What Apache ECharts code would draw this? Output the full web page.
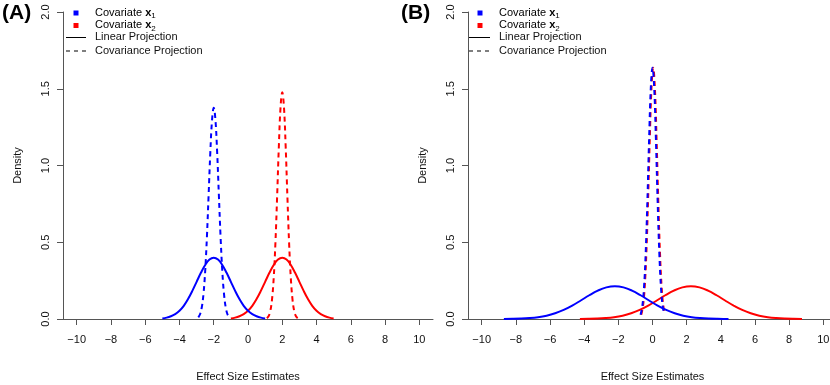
<!DOCTYPE html>
<html><head><meta charset="utf-8">
<script src="https://cdn.jsdelivr.net/npm/echarts@6/dist/echarts.min.js"></script>
<style>html,body{margin:0;padding:0;background:#fff}#c{width:830px;height:385px}</style>
</head><body><div id="c"></div>
<script>
// ---- tick labels ----
const xTicks = [-10, -8, -6, -4, -2, 0, 2, 4, 6, 8, 10];
const yTicks = [0, 0.5, 1.0, 1.5, 2.0];
const panelLabels = ['(A)', '(B)'];
const legendLabels = ['Covariate x1', 'Covariate x2', 'Linear Projection', 'Covariance Projection'];

// ---- Panel A: Linear projection densities ----
const aBlueLinX = [-5,-4.75,-4.5,-4.25,-4,-3.75,-3.5,-3.25,-3,-2.75,-2.5,-2.25,-2,-1.75,-1.5,-1.25,-1,-0.75,-0.5,-0.25,0,0.25,0.5,0.75,1];
const aBlueLinY = [0.004,0.009,0.018,0.032,0.054,0.086,0.130,0.183,0.242,0.301,0.352,0.387,0.399,0.387,0.352,0.301,0.242,0.183,0.130,0.086,0.054,0.032,0.018,0.009,0.004];
const aRedLinX = [-1,-0.75,-0.5,-0.25,0,0.25,0.5,0.75,1,1.25,1.5,1.75,2,2.25,2.5,2.75,3,3.25,3.5,3.75,4,4.25,4.5,4.75,5];
const aRedLinY = [0.004,0.009,0.018,0.032,0.054,0.086,0.130,0.183,0.242,0.301,0.352,0.387,0.399,0.387,0.352,0.301,0.242,0.183,0.130,0.086,0.054,0.032,0.018,0.009,0.004];
// ---- Panel A: Covariance projection densities ----
const aBlueCovX = [-2.9,-2.8,-2.7,-2.6,-2.5,-2.4,-2.3,-2.2,-2.1,-2.0,-1.9,-1.8,-1.7,-1.6,-1.5,-1.4,-1.3,-1.2,-1.1];
const aBlueCovY = [0.011,0.031,0.075,0.162,0.311,0.532,0.806,1.084,1.295,1.376,1.295,1.084,0.806,0.532,0.311,0.162,0.075,0.031,0.011];
const aRedCovX = [1.1,1.2,1.3,1.4,1.5,1.6,1.7,1.8,1.9,2.0,2.1,2.2,2.3,2.4,2.5,2.6,2.7,2.8,2.9];
const aRedCovY = [0.006,0.018,0.051,0.125,0.266,0.493,0.797,1.122,1.379,1.478,1.379,1.122,0.797,0.493,0.266,0.125,0.051,0.018,0.006];

// ---- Panel B: Linear projection densities ----
const bBlueLinX = [-8.7,-8.2,-7.7,-7.2,-6.7,-6.2,-5.7,-5.2,-4.7,-4.2,-3.7,-3.2,-2.7,-2.2,-1.7,-1.2,-0.7,-0.2,0.3,0.8,1.3,1.8,2.3,2.8,3.3,3.8,4.3,4.45];
const bBlueLinY = [0.0005,0.0012,0.0028,0.0060,0.0117,0.0216,0.0371,0.0590,0.0873,0.1204,0.1547,0.1849,0.2059,0.2133,0.2059,0.1849,0.1547,0.1204,0.0873,0.0590,0.0371,0.0216,0.0117,0.0060,0.0028,0.0012,0.0005,0.0004];
const bRedLinX = [-4.25,-3.75,-3.25,-2.75,-2.25,-1.75,-1.25,-0.75,-0.25,0.25,0.75,1.25,1.75,2.25,2.75,3.25,3.75,4.25,4.75,5.25,5.75,6.25,6.75,7.25,7.75,8.25,8.75];
const bRedLinY = [0.0005,0.0012,0.0028,0.0060,0.0117,0.0216,0.0371,0.0590,0.0873,0.1204,0.1547,0.1849,0.2059,0.2133,0.2059,0.1849,0.1547,0.1204,0.0873,0.0590,0.0371,0.0216,0.0117,0.0060,0.0028,0.0012,0.0005];
// ---- Panel B: Covariance projection densities ----
const bBlueCovX = [-0.7,-0.6,-0.5,-0.4,-0.3,-0.2,-0.1,0,0.1,0.2,0.3,0.4,0.5,0.6,0.7];
const bBlueCovY = [0.027,0.080,0.200,0.426,0.767,1.168,1.503,1.637,1.503,1.168,0.767,0.426,0.200,0.080,0.027];
const bRedCovX = [-0.66,-0.56,-0.46,-0.36,-0.26,-0.16,-0.06,0.04,0.14,0.24,0.34,0.44,0.54,0.64,0.74];
const bRedCovY = [0.027,0.080,0.200,0.426,0.767,1.168,1.503,1.637,1.503,1.168,0.767,0.426,0.200,0.080,0.027];

const BLUE = '#0000FF', RED = '#FF0000', AX = '#555555', TXT = '#111111';
const FONT = '"Liberation Sans", Arial, Helvetica, sans-serif';

function pairs(xs, ys) { return xs.map((x, i) => [x, ys[i]]); }
function curve(idx, xs, ys, color, dashed) {
  return {
    type: 'line', xAxisIndex: idx, yAxisIndex: idx, data: pairs(xs, ys),
    smooth: 0.4, symbol: 'none', silent: true,
    lineStyle: { color: color, width: 2, type: dashed ? [5, 4] : 'solid', cap: 'butt' }
  };
}
const fmtMinus = v => String(v).replace('-', '\u2212');

function xAxis(idx) {
  return {
    gridIndex: idx, type: 'value', min: -10.8, max: 10.8,
    name: 'Effect Size Estimates', nameLocation: 'middle', nameGap: 52,
    nameTextStyle: { fontFamily: FONT, fontSize: 11, color: TXT },
    axisLine: { show: true, onZero: false, lineStyle: { color: AX, width: 1 } },
    axisTick: { show: true, length: 6, customValues: xTicks, lineStyle: { color: AX } },
    axisLabel: { customValues: xTicks, formatter: fmtMinus, margin: 15, fontFamily: FONT, fontSize: 11, color: TXT },
    splitLine: { show: false }
  };
}
function yAxis(idx) {
  return {
    gridIndex: idx, type: 'value', min: 0, max: 2, interval: 0.5,
    name: 'Density', nameLocation: 'middle', nameGap: 40, nameRotate: 90,
    nameTextStyle: { fontFamily: FONT, fontSize: 11, color: TXT },
    axisLine: { show: true, onZero: false, lineStyle: { color: AX, width: 1 } },
    axisTick: { show: true, length: 6, lineStyle: { color: AX } },
    axisLabel: { rotate: 90, margin: 12, formatter: v => v.toFixed(1), fontFamily: FONT, fontSize: 11, color: TXT },
    splitLine: { show: false }
  };
}

const richStyles = {
  n: { fontFamily: FONT, fontSize: 11, color: TXT, lineHeight: 12, verticalAlign: 'top' },
  b: { fontFamily: FONT, fontSize: 11, color: TXT, fontWeight: 'bold', lineHeight: 12, verticalAlign: 'top' },
  s: { fontFamily: FONT, fontSize: 8, color: TXT, lineHeight: 9, padding: [5, 0, 0, 0], verticalAlign: 'top' }
};
function legendGraphics(sqX, textX, lineX0, lineX1, labelX, label) {
  const g = [];
  g.push({ type: 'text', left: labelX, top: 3, style: { text: label, fontFamily: FONT, fontSize: 21, fontWeight: 'bold', fill: '#000' } });
  g.push({ type: 'rect', shape: { x: sqX - 2.5, y: 10.5, width: 5, height: 5 }, style: { fill: BLUE } });
  g.push({ type: 'rect', shape: { x: sqX - 2.5, y: 23, width: 5, height: 5 }, style: { fill: RED } });
  g.push({ type: 'line', shape: { x1: lineX0, y1: 37.5, x2: lineX1, y2: 37.5 }, style: { stroke: '#000', lineWidth: 1 } });
  g.push({ type: 'line', shape: { x1: lineX0, y1: 51, x2: lineX1, y2: 51 }, style: { stroke: '#000', lineWidth: 1, lineDash: [4, 4] } });
  const cv1 = legendLabels[0].split(' '), cv2 = legendLabels[1].split(' ');
  g.push({ type: 'text', x: textX, y: 7, style: { text: '{n|' + cv1[0] + ' }{b|' + cv1[1][0] + '}{s|' + cv1[1].slice(1) + '}', rich: richStyles } });
  g.push({ type: 'text', x: textX, y: 19.5, style: { text: '{n|' + cv2[0] + ' }{b|' + cv2[1][0] + '}{s|' + cv2[1].slice(1) + '}', rich: richStyles } });
  g.push({ type: 'text', x: textX, y: 37, style: { text: legendLabels[2], fontFamily: FONT, fontSize: 11, fill: TXT, verticalAlign: 'middle' } });
  g.push({ type: 'text', x: textX, y: 51, style: { text: legendLabels[3], fontFamily: FONT, fontSize: 11, fill: TXT, verticalAlign: 'middle' } });
  return g;
}

const chart = echarts.init(document.getElementById('c'), null, { renderer: 'canvas' });
chart.setOption({
  animation: false,
  backgroundColor: '#ffffff',
  grid: [
    { left: 63, top: 12, width: 370, height: 307, outerBoundsMode: 'none', containLabel: false },
    { left: 468, top: 12, width: 369, height: 307, outerBoundsMode: 'none', containLabel: false }
  ],
  xAxis: [xAxis(0), xAxis(1)],
  yAxis: [yAxis(0), yAxis(1)],
  series: [
    curve(0, aRedLinX, aRedLinY, RED, false),
    curve(0, aRedCovX, aRedCovY, RED, true),
    curve(0, aBlueLinX, aBlueLinY, BLUE, false),
    curve(0, aBlueCovX, aBlueCovY, BLUE, true),
    curve(1, bRedLinX, bRedLinY, RED, false),
    curve(1, bRedCovX, bRedCovY, RED, true),
    curve(1, bBlueLinX, bBlueLinY, BLUE, false),
    curve(1, bBlueCovX, bBlueCovY, BLUE, true)
  ],
  graphic: legendGraphics(76, 95, 66, 86, 2, panelLabels[0]).concat(legendGraphics(480, 499, 469, 490, 401, panelLabels[1]))
});
</script>
</body></html>
